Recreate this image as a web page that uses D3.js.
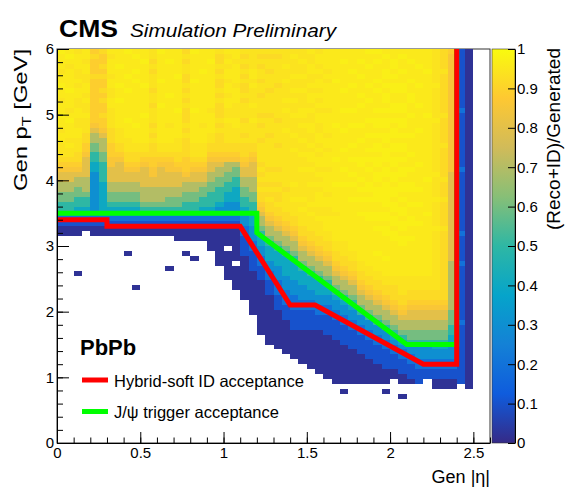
<!DOCTYPE html>
<html><head><meta charset="utf-8">
<script src="https://cdn.jsdelivr.net/npm/d3@7"></script>
<style>
body{margin:0;background:#fff}
svg{display:block}
text{font-family:"Liberation Sans",Arial,Helvetica,sans-serif;fill:#000}
</style>
</head><body>
<svg id="c" width="573" height="492"></svg>
<script>
// ---------------- data ----------------
const etaRange = [0, 2.5];
const ptRange = [0, 6];
const xDomain = [0, 2.6];
const yDomain = [0, 6];
const zDomain = [0, 1];
const xTicks = [0, 0.5, 1, 1.5, 2, 2.5];
const yTicks = [0, 1, 2, 3, 4, 5, 6];
const zTicks = [0, 0.1, 0.2, 0.3, 0.4, 0.5, 0.6, 0.7, 0.8, 0.9, 1];
// efficiency level codes ('.' = empty bin)
const levelValue = {"0":0.02,"1":0.1,"2":0.2,"3":0.3,"4":0.4,"5":0.5,"6":0.6,"7":0.7,"8":0.8,
  "a":0.86,"b":0.89,"c":0.92,"d":0.94,"e":0.955,"f":0.97,"g":0.985};
// one string per |eta| column (0.05 wide), rows from pT=0 upward (0.075 GeV each)
const effColumns = [
".......... .......... .......... .......... ..00123556 67788abcdd deedeefeed eefeedeeef",
".......... .......... .......... .......... ..00123556 67788abcdd edeeefedee efeeeedefe",
".......... .......... .......... ....0..... ..00123455 66778abccd ddeeddeedd eededdeeed",
".......... .......... .......... .......... ...0123455 67778888ab bccdddedde deeddeedee",
".......... .......... .......... .......... ..00122333 3333344556 6778abbbbb bbbbcbbbcb",
".......... .......... .......... .......... ..00123444 4445555667 778abbcbbc bcbbcbcbbc",
".......... .......... .......... .......... ..00123456 677888aabb bcccddddee ddeedeeede",
".......... .......... .......... .......... ..00123456 6778888abc cdddeeeeef eefeeefeee",
".......... .......... .......... ........0. ..00123456 67788abccd ddeeefeeee efeefeeeef",
".......... .......... .......... .0........ ..00123456 67788abccd deeefeeeee eeefefeefe",
".......... .......... .......... .......... ..00123567 778888abcd deeeeefeee eefeeeefee",
".......... .......... .......... .......... ..00123567 7788aabbcc cdcdcdddcd dcdddcdcdd",
".......... .......... .......... .......... ..00123567 778888abcd deeeeeeefe eeefeeeeef",
".......... .......... .......... .....0.... ..00123566 77888aabcd deeedeeeee feeeeeefee",
".......... .......... .......... .......... .000123566 77888abccd ddeeeeefee eeeefeeeee",
".......... .......... .......... ........0. .000123556 6778abbbcc ccdcdcccdc dcdccddcdc",
".......... .......... .......... .......0.. .000123556 67788abcdd deeeeeefee eeefeeeeef",
".......... .......... .......... .......... .000123455 66788abcdd deeedeeeee eeeeefeeee",
".......... .......... .......... .........0 0000123455 5667788abc cddeeeedee eeeeeeefee",
".......... .......... .......... ......0000 0000123345 5566778abc cccdcdcccd cdccdcdccd",
".......... .......... .......... ...000000. 0000123334 4556677abc cddddeddee deedeedede",
".......... .......... .......... .00000.000 0000123334 4455667abc cdddeeddde eedeeeedee",
".......... .......... .........0 0000000011 1122334455 667788abcc cdcddcdddc dccdcdcdcd",
".......... .......... ......0000 0000011112 2333444556 6777888abc cddddedded ddedeedddd",
".......... .......... ..00000000 0001112233 4456778abc cdcdcdcddd dcddcdcddd cddcddcdcd",
".......... .......... 0000000000 1112233444 56778abccd cdcddcdddd ddcdddcddd dcdddcddcd",
".......... .........0 0000000111 2223334445 6778abccdc cdcddcdddd cddddcdddd ddcdddddcd",
".......... ........00 0000011122 2333444456 778abccddd dcdddddddd dddedddede dddeddeddd",
".......... .......000 0001111222 3334444567 78abccddde ddedddddde ddedddedde deddeddded",
".......... ......0000 0001111223 3344456778 abccdddede dddddedded deddedeedd deddeddedd",
".......... .....00000 0001111223 344456778a bccdddeded ddeddedeed eddeeddede ededdeedde",
".......... ....000000 0001112233 44456778ab ccdddeddee edededeede deeddeeded edeededeed",
".......... ...0000000 0011112233 4456778abc cddeeeddee deeeedeeed eedeeeedee eeededeeee",
".......... ..00000000 0111122334 56778abccd deeeeedeee eefeeeefee eeeefeeeee eeefeeeeee",
".......... 0.00000000 1111223345 6778abccdd deeeeeeeee eefeefeeef eeefeeefee efeeeeefee",
".......... ..00000001 1112233456 778abccdde eeeeeeeeef eefefeefee feeefeefee eefeefeeee",
".......... ..00000011 1122335677 8abccddeee eeeeeefeef efefeeffee efeefeeefe feeefeefee",
".......... ..00000111 1223356778 abccddeeee eeeeeffeef effeefefef eefeefeeef eefeeefeef",
".......... ..00001111 223356778a bccddeeefe eeefeffeef ffeffeffef fefeffefee efefeeefef",
".......... 0.00011112 23356778ab ccddeeefee eeffeffeff fffeffefff effeffefef fefeffeefe",
".......... ...0011122 3456778abc ccddeeeeee effeffeffe ffeffeffef feffefeffe effefeffee",
".........0 ..00111223 456778abcc ddddeeeeee ffeffeffef effeffefef fefeffeffe effeefeefe",
".......... ..01112233 5667788abc cdddeeeeee efeeffeefe effeefeefe eefeeefeef feefeeefee",
".......... ..11122333 5667788abc cdddeeeeee eeeefeeefe efeeeefeee eeefeeeefe eefeeefeee",
".......... ...1122333 5667788abc cdddeeeeee eeeeeefeee eeefeeeeee eeeeeefeee eeeeefeeee",
".......... .001122334 5667788abc cddddddddd dddeddddde ddddeddddd dddddedddd ddeddddddd",
".......... .001122334 5667788abc cccccccccc cccdcccccd cccdcccccc dcccccdccc cccccdcccc",
".......... .001122333 4455666777 7777777888 8888888888 88888aaaaa aaaaaaaaaa aaaaaaaaab",
".......... ..11111111 1111211111 1111112111 1121111111 1111121111 1111111211 1111111111",
".......... .000000000 0000000000 0000000000 0000000000 0000000000 0000000000 0000000000"
];
// acceptance boundaries (|eta|, pT)
const idAcceptance = [[0,3.4],[0.3,3.4],[0.3,3.3],[1.1,3.3],[1.4,2.1],[1.55,2.1],[2.2,1.2],[2.4,1.2],[2.4,6]];
const trigAcceptance = [[0,3.5],[1.2,3.5],[1.2,3.2],[2.1,1.5],[2.4,1.5],[2.4,6]];
const legendLabels = ["Hybrid-soft ID acceptance", "J/\u03c8 trigger acceptance"];
// ROOT kBird palette
const birdStops = [0, 0.125, 0.25, 0.375, 0.5, 0.625, 0.75, 0.875, 1];
const birdR = [0.2082, 0.0592, 0.0780, 0.0232, 0.1802, 0.5301, 0.8186, 0.9956, 0.9764];
const birdG = [0.1664, 0.3599, 0.5041, 0.6419, 0.7178, 0.7492, 0.7328, 0.7862, 0.9832];
const birdB = [0.5293, 0.8684, 0.8385, 0.7914, 0.6425, 0.4662, 0.3499, 0.1968, 0.0539];

// ---------------- drawing ----------------
const svg = d3.select('#c');
const L = 57, R = 490, T = 49, B = 443;
const x = d3.scaleLinear().domain(xDomain).range([L, R]);
const y = d3.scaleLinear().domain(yDomain).range([B, T]);
const birdColors = birdStops.map((s, i) => d3.rgb(birdR[i]*255, birdG[i]*255, birdB[i]*255).formatHex());
const color = d3.scaleLinear().domain(birdStops.map(s => zDomain[0] + s*(zDomain[1]-zDomain[0])))
  .range(birdColors).interpolate(d3.interpolateRgb).clamp(true);

// frame
svg.append('rect').attr('x', L).attr('y', T).attr('width', R-L).attr('height', B-T)
  .attr('fill', 'none').attr('stroke', '#333').attr('stroke-width', 1);

// cells
const cells = [];
const nEta = effColumns.length;
const dEta = (etaRange[1]-etaRange[0]) / nEta;
effColumns.forEach((col, i) => {
  const s = col.replace(/ /g, '');
  const dPt = (ptRange[1]-ptRange[0]) / s.length;
  for (let j = 0; j < s.length; j++) {
    const ch = s[j];
    if (ch === '.') continue;
    cells.push({e0: etaRange[0]+i*dEta, e1: etaRange[0]+(i+1)*dEta,
                p0: ptRange[0]+j*dPt, p1: ptRange[0]+(j+1)*dPt, v: levelValue[ch]});
  }
});
svg.append('g').attr('shape-rendering', 'crispEdges')
  .selectAll('rect').data(cells).join('rect')
  .attr('x', d => x(d.e0)).attr('y', d => y(d.p1))
  .attr('width', d => x(d.e1) - x(d.e0)).attr('height', d => y(d.p0) - y(d.p1))
  .attr('fill', d => color(d.v));

// acceptance lines
const line = d3.line().x(d => x(d[0])).y(d => y(d[1]));
svg.append('path').datum(trigAcceptance).attr('d', line).attr('fill', 'none')
  .attr('stroke', '#00ff00').attr('stroke-width', 5).attr('stroke-linejoin', 'miter');
svg.append('path').datum(idAcceptance).attr('d', line).attr('fill', 'none')
  .attr('stroke', '#ff0000').attr('stroke-width', 5).attr('stroke-linejoin', 'miter');

// axes
function styleAxis(g) {
  g.selectAll('path.domain').attr('stroke', '#000');
  g.selectAll('.tick line').attr('stroke', '#000');
  g.selectAll('text').attr('font-size', 15).attr('font-family', '"Liberation Sans",Arial,sans-serif').attr('fill', '#000');
}
const fmt = d => String(d);
const gxMinor = svg.append('g').attr('transform', `translate(0,${B})`)
  .call(d3.axisBottom(x).tickValues(d3.range(0, 2.601, 0.1)).tickSizeInner(-5.5).tickSizeOuter(0).tickFormat(''));
gxMinor.select('path.domain').remove();
styleAxis(gxMinor);
const gx = svg.append('g').attr('transform', `translate(0,${B})`)
  .call(d3.axisBottom(x).tickValues(xTicks).tickSizeInner(-11).tickSizeOuter(0).tickPadding(4).tickFormat(fmt));
styleAxis(gx);

const gyMinor = svg.append('g').attr('transform', `translate(${L},0)`)
  .call(d3.axisLeft(y).tickValues(d3.range(0, 6.001, 0.2)).tickSizeInner(-6).tickSizeOuter(0).tickFormat(''));
gyMinor.select('path.domain').remove();
styleAxis(gyMinor);
const gy = svg.append('g').attr('transform', `translate(${L},0)`)
  .call(d3.axisLeft(y).tickValues(yTicks).tickSizeInner(-12).tickSizeOuter(0).tickPadding(3).tickFormat(fmt));
styleAxis(gy);

// colour bar
const CBL = 492, CBR = 515;
const defs = svg.append('defs');
const grad = defs.append('linearGradient').attr('id', 'bird').attr('x1', 0).attr('y1', 1).attr('x2', 0).attr('y2', 0);
grad.selectAll('stop').data(birdStops).join('stop')
  .attr('offset', d => d).attr('stop-color', (d, i) => birdColors[i]);
svg.append('rect').attr('x', CBL).attr('y', T).attr('width', CBR-CBL).attr('height', B-T)
  .attr('fill', 'url(#bird)').attr('stroke', '#333').attr('stroke-width', 0.6);
const z = d3.scaleLinear().domain(zDomain).range([B, T]);
const gz = svg.append('g').attr('transform', `translate(${CBR},0)`)
  .call(d3.axisRight(z).tickValues(zTicks).tickSizeInner(-7).tickSizeOuter(0).tickPadding(2).tickFormat(fmt));
styleAxis(gz);

// titles
svg.append('text').attr('x', 59).attr('y', 37).attr('font-size', 24).attr('font-weight', 'bold')
  .attr('textLength', 59).attr('lengthAdjust', 'spacingAndGlyphs').text('CMS');
svg.append('text').attr('x', 130).attr('y', 37).attr('font-size', 18).attr('font-style', 'italic')
  .attr('textLength', 206).attr('lengthAdjust', 'spacingAndGlyphs').text('Simulation Preliminary');

svg.append('text').attr('x', R).attr('y', 483).attr('font-size', 18).attr('text-anchor', 'end').text('Gen |\u03b7|');

const yt = svg.append('text').attr('transform', `translate(27,${T}) rotate(-90) scale(1.25,1)`)
  .attr('font-size', 19).attr('text-anchor', 'end');
yt.append('tspan').text('Gen p');
yt.append('tspan').attr('font-size', 13).attr('dy', 4).text('T');
yt.append('tspan').attr('dy', -4).text(' [GeV]');

svg.append('text').attr('transform', `translate(560,${T-1}) rotate(-90)`)
  .attr('font-size', 18).attr('text-anchor', 'end')
  .attr('textLength', 182).attr('lengthAdjust', 'spacingAndGlyphs').text('(Reco+ID)/Generated');

// legend
svg.append('text').attr('x', 80).attr('y', 355).attr('font-size', 22).attr('font-weight', 'bold').text('PbPb');
const legColors = ['#ff0000', '#00ff00'];
const legY = [380, 411.5];
legendLabels.forEach((lab, i) => {
  svg.append('line').attr('x1', 82).attr('x2', 108).attr('y1', legY[i]).attr('y2', legY[i])
    .attr('stroke', legColors[i]).attr('stroke-width', 5);
  svg.append('text').attr('x', 114).attr('y', legY[i] + 6.5).attr('font-size', 16.5).text(lab);
});
</script>
</body></html>
